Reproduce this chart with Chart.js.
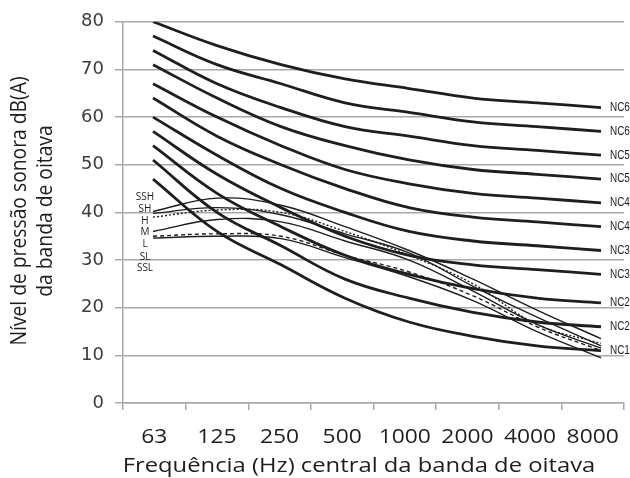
<!DOCTYPE html>
<html>
<head>
<meta charset="utf-8">
<script src="https://cdn.jsdelivr.net/npm/chart.js@4/dist/chart.umd.min.js"></script>
<style>
html,body{margin:0;padding:0;background:#fff;}
#wrap{width:630px;height:478px;position:relative;}
</style>
</head>
<body>
<div id="wrap"><canvas id="c"></canvas></div>
<script>
// ---- data ----
const categories = ['63', '125', '250', '500', '1000', '2000', '4000', '8000'];
const ncNames = ['NC65', 'NC60', 'NC55', 'NC50', 'NC45', 'NC40', 'NC35', 'NC30', 'NC25', 'NC20', 'NC15'];
const nc65 = [80, 75, 71, 68, 66, 64, 63, 62];
const nc60 = [77, 71, 67, 63, 61, 59, 58, 57];
const nc55 = [74, 67, 62, 58, 56, 54, 53, 52];
const nc50 = [71, 64, 58, 54, 51, 49, 48, 47];
const nc45 = [67, 60, 54, 49, 46, 44, 43, 42];
const nc40 = [64, 56, 50, 45, 41, 39, 38, 37];
const nc35 = [60, 52, 45, 40, 36, 34, 33, 32];
const nc30 = [57, 48, 41, 35, 31, 29, 28, 27];
const nc25 = [54, 44, 37, 31, 27, 24, 22, 21];
const nc20 = [51, 40, 33, 26, 22, 19, 17, 16];
const nc15 = [47, 36, 29, 22, 17, 14, 12, 11];
const curveNames = ['SSH', 'SH', 'H', 'M', 'L', 'SL', 'SSL'];
const ssh = [40.2, 43.0, 41.5, 37.0, 32.0, 26.0, 19.5, 13.5];
const sh  = [39.0, 40.5, 40.0, 36.0, 31.0, 25.0, 16.5, 12.5];
const h   = [39.8, 41.0, 39.5, 35.5, 31.5, 24.5, 18.0, 12.0];
const m   = [36.0, 38.5, 38.0, 34.0, 30.0, 23.5, 16.5, 11.5];
const l   = [35.0, 35.5, 35.0, 31.0, 27.5, 22.5, 16.0, 11.0];
const sl  = [34.6, 35.0, 34.5, 30.5, 26.5, 21.5, 15.0, 9.5];
const yTickValues = [0, 10, 20, 30, 40, 50, 60, 70, 80];

// ---- build ----
const toPts = arr => arr.map((v, i) => ({x: i, y: v}));
const ncSeries = [nc65, nc60, nc55, nc50, nc45, nc40, nc35, nc30, nc25, nc20, nc15];
const datasets = [];
ncSeries.forEach((s, k) => datasets.push({
  label: ncNames[k], data: toPts(s), xAxisID: 'xd',
  borderColor: '#1e1e1e', borderWidth: 2.8, pointRadius: 0, tension: 0.4, fill: false
}));
const thin = [
  {d: ssh, dash: []}, {d: sh, dash: [2, 2]}, {d: h, dash: []},
  {d: m, dash: []}, {d: l, dash: [4, 3]}, {d: sl, dash: []}
];
thin.forEach((t, k) => datasets.push({
  label: curveNames[k], data: toPts(t.d), xAxisID: 'xd',
  borderColor: '#1e1e1e', borderWidth: 1.4, borderDash: t.dash, pointRadius: 0, tension: 0.4, fill: false
}));

const GRID = '#a8a8a8';
const INK = '#1e1e1e';
// draw text squeezed/stretched horizontally (reference image is widened)
function sText(c, txt, x, y, sx) {
  c.save(); c.translate(x, y); c.scale(sx, 1); c.fillText(txt, 0, 0); c.restore();
}
const annot = {
  id: 'annot',
  beforeDraw(chart) {
    const c = chart.ctx; c.save(); c.fillStyle = '#fff'; c.fillRect(0, 0, chart.width, chart.height); c.restore();
  },
  afterDraw(chart) {
    const c = chart.ctx, xs = chart.scales.xd, xc = chart.scales.x, ys = chart.scales.y;
    c.save();
    c.fillStyle = INK;
    // category tick labels
    c.font = '19.5px "Open Sans", sans-serif';
    c.textAlign = 'center'; c.textBaseline = 'alphabetic';
    categories.forEach((lab, i) => sText(c, lab, xc.getPixelForValue(i), 443, 1.17));
    // NC labels at line ends
    c.font = '12px "Liberation Sans", Arial, sans-serif';
    c.textAlign = 'left'; c.textBaseline = 'middle';
    ncSeries.forEach((s, k) => sText(c, ncNames[k], xs.getPixelForValue(7.14), ys.getPixelForValue(s[s.length - 1]), 0.83));
    // left curve labels
    c.font = '10px "Open Sans", sans-serif';
    c.textAlign = 'center';
    const ly = [43.3, 40.6, 38.2, 35.8, 33.3, 30.7, 28.2];
    curveNames.forEach((n, k) => c.fillText(n, 145, ys.getPixelForValue(ly[k])));
    // y axis title (two lines, rotated)
    c.font = '19.3px "Open Sans", sans-serif';
    c.textAlign = 'center'; c.textBaseline = 'middle';
    [['Nível de pressão sonora dB(A)', 20], ['da banda de oitava', 46]].forEach(([t, x]) => {
      c.save(); c.translate(x, 211); c.rotate(-Math.PI / 2); c.scale(1, 1.1); c.fillText(t, 0, 0); c.restore();
    });
    // x axis title
    c.font = '19.5px "Open Sans", sans-serif';
    c.textBaseline = 'alphabetic';
    sText(c, 'Frequência (Hz) central da banda de oitava', 359, 472, 1.22);
    c.restore();
  }
};

new Chart(document.getElementById('c'), {
  type: 'line',
  data: {labels: categories, datasets},
  options: {
    responsive: true, maintainAspectRatio: false, animation: false,
    layout: {padding: {top: 19, right: 6, left: 0, bottom: 0}},
    plugins: {legend: {display: false}, tooltip: {enabled: false}},
    scales: {
      x: {
        type: 'category', offset: true,
        grid: {offset: true, drawOnChartArea: false, drawTicks: true, tickLength: 7, color: GRID, lineWidth: 1.5},
        border: {color: GRID, width: 1.5},
        ticks: {color: 'rgba(0,0,0,0)', font: {family: '"Open Sans", sans-serif', size: 20}, padding: 12, maxRotation: 0, autoSkip: false},
        afterFit: s => { s.height = 75; }
      },
      xd: {type: 'linear', display: false, min: -0.469, max: 7.359},
      y: {
        min: 0, max: 80,
        afterBuildTicks: s => { s.ticks = yTickValues.map(v => ({value: v})); },
        grid: {color: GRID, lineWidth: 1.5, tickLength: 8},
        border: {color: GRID, width: 1.5},
        ticks: {color: '#3c3c3c', font: {family: '"DejaVu Sans", sans-serif', size: 18}, padding: 11},
        afterFit: s => { s.width = 123; }
      }
    }
  },
  plugins: [annot]
});
</script>
</body>
</html>
